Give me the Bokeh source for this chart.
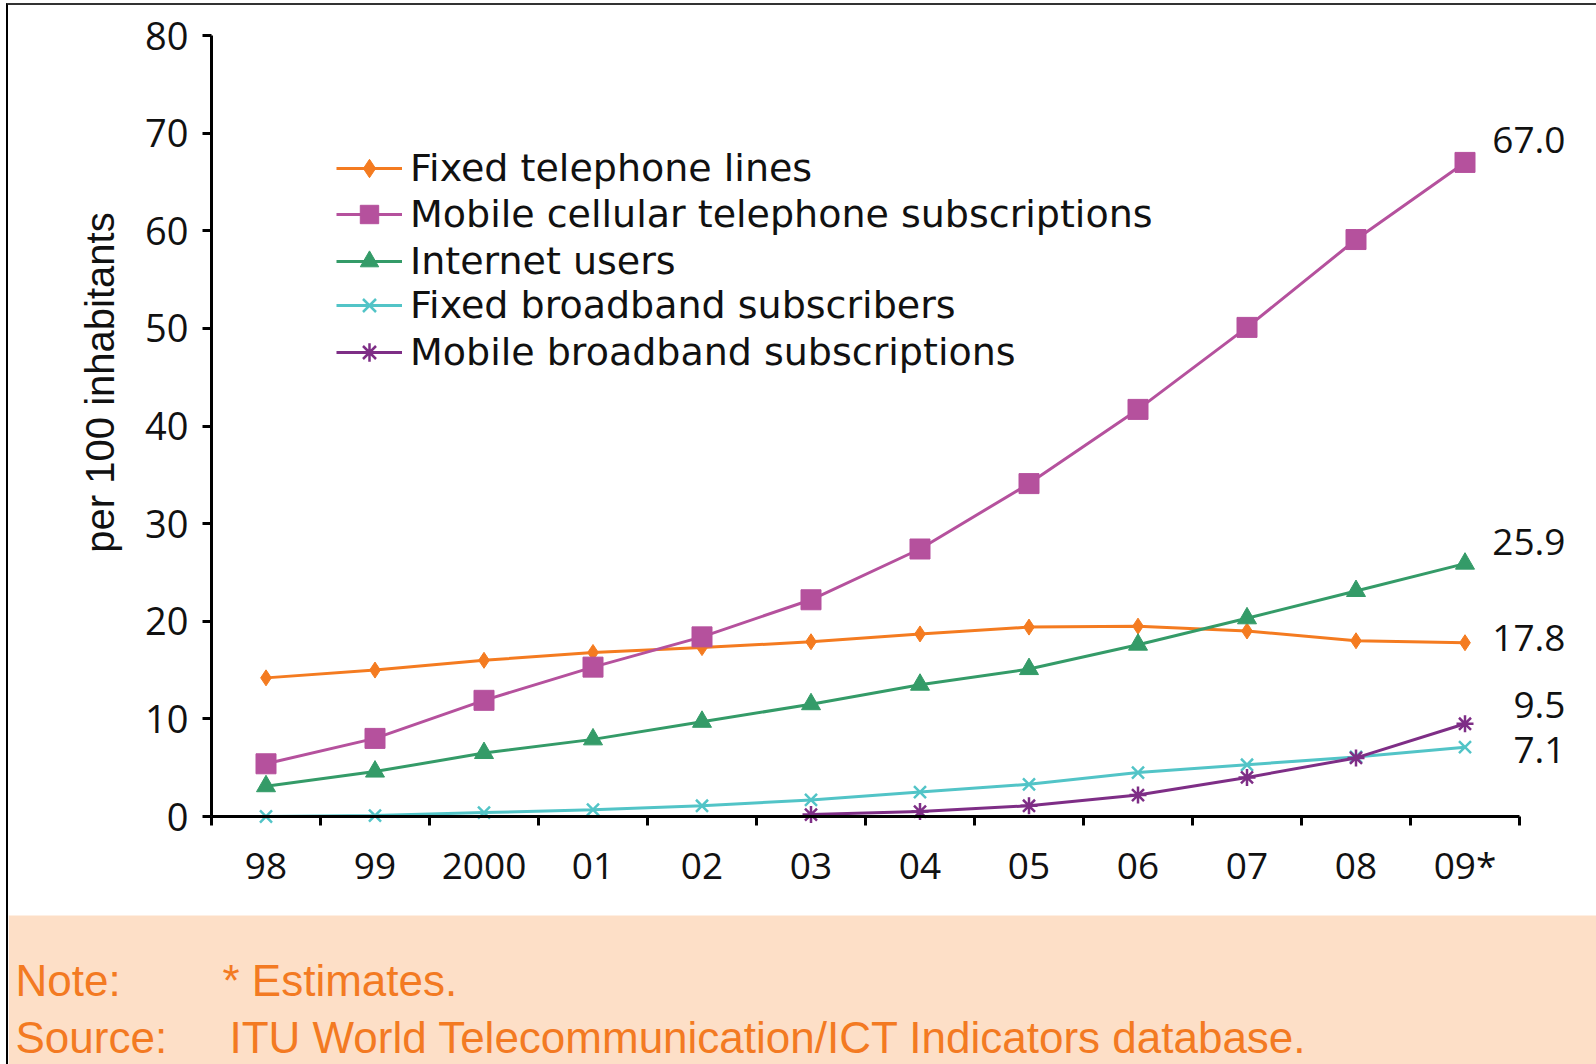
import math
from bokeh.plotting import figure
from bokeh.models import ColumnDataSource, Range1d, FixedTicker, Legend, LegendItem, BoxAnnotation
from bokeh.layouts import column
from bokeh.embed import file_html
from bokeh.resources import INLINE
from bokeh.core.properties import value

# ---- data (per 100 inhabitants) ----
years = ["98", "99", "2000", "01", "02", "03", "04", "05", "06", "07", "08", "09*"]
fixed_tel = [14.2, 15.0, 16.0, 16.8, 17.3, 17.9, 18.7, 19.4, 19.5, 19.0, 18.0, 17.8]
mobile_cell = [5.4, 8.0, 11.9, 15.3, 18.4, 22.2, 27.4, 34.1, 41.7, 50.1, 59.1, 67.0]
internet = [3.1, 4.6, 6.5, 7.9, 9.7, 11.5, 13.5, 15.1, 17.6, 20.3, 23.1, 25.9]
fixed_bb = [0.0, 0.1, 0.4, 0.7, 1.1, 1.7, 2.5, 3.3, 4.5, 5.3, 6.1, 7.1]
mobile_bb_years = ["03", "04", "05", "06", "07", "08", "09*"]
mobile_bb = [0.2, 0.5, 1.1, 2.2, 4.0, 6.0, 9.5]

labels = ["Fixed telephone lines", "Mobile cellular telephone subscriptions",
          "Internet users", "Fixed broadband subscribers", "Mobile broadband subscriptions"]
y_ticks = [0, 10, 20, 30, 40, 50, 60, 70, 80]
y_title = "per 100 inhabitants"
note_keys = ["Note:", "Source:"]
note_vals = ["* Estimates.", "ITU World Telecommunication/ICT Indicators database."]

FONT = "Open Sans"
LEGEND_FONT = "DejaVu Sans"
idx = {y: i for i, y in enumerate(years)}
xs = list(range(len(years)))
n = len(years)

# ---- page geometry (pixels on the page) ----
FIG_X, FIG_Y, FIG_W, FIG_H = 8, 5, 1588, 1059
AX_LEFT_PX, AX_BOTTOM_PX, AX_RIGHT_PX, AX_TOP_PX = 211, 816, 1519, 35
XS = (AX_RIGHT_PX - AX_LEFT_PX) / n          # px per category
YS = (AX_BOTTOM_PX - AX_TOP_PX) / 80.0       # px per unit


def px_x(px):
    return -0.5 + (px - AX_LEFT_PX) / XS


def px_y(py):
    return (AX_BOTTOM_PX - py) / YS


p = figure(width=FIG_W, height=FIG_H, output_backend="svg", toolbar_location=None,
           x_range=Range1d(px_x(FIG_X), px_x(FIG_X + FIG_W)),
           y_range=Range1d(px_y(FIG_Y + FIG_H), px_y(FIG_Y)),
           min_border=0, background_fill_color="white", border_fill_color="white")
p.outline_line_color = None
p.xgrid.visible = False
p.ygrid.visible = False

# peach note panel background
p.add_layout(BoxAnnotation(top=px_y(915), fill_color="#FDDFC7", fill_alpha=1.0,
                           line_color=None, level="underlay"))

# x axis
xa = p.xaxis[0]
xa.fixed_location = 0
xa.ticker = FixedTicker(ticks=xs, minor_ticks=[i - 0.5 for i in range(n + 1)])
xa.major_label_overrides = {i: y for i, y in enumerate(years)}
xa.bounds = (-0.5, n - 0.5)
xa.major_tick_out = 0
xa.major_tick_in = 0
xa.minor_tick_out = 9
xa.minor_tick_in = 0
xa.minor_tick_line_color = "black"
xa.minor_tick_line_width = 3
xa.axis_line_width = 3
xa.axis_line_color = "black"
xa.major_label_standoff = 13
xa.major_label_text_font = FONT
xa.major_label_text_font_size = "37px"
xa.major_label_text_color = "#111111"

# y axis
ya = p.yaxis[0]
ya.fixed_location = -0.5
ya.ticker = FixedTicker(ticks=y_ticks)
ya.bounds = (0, 80)
ya.major_tick_out = 9
ya.major_tick_in = 0
ya.major_tick_line_width = 3
ya.minor_tick_line_color = None
ya.axis_line_width = 3
ya.axis_line_color = "black"
ya.major_label_standoff = 14
ya.major_label_text_font = FONT
ya.major_label_text_font_size = "38px"
ya.major_label_text_color = "#111111"

# y axis title (drawn as rotated text to sit where the reference has it)
p.text(x=[px_x(99)], y=[px_y(382)], text=[y_title], angle=math.pi / 2,
       text_align="center", text_baseline="middle",
       text_font=value("Liberation Sans"), text_font_size="40px", text_color="#111111")

series = [
    (years, fixed_tel, "#F47B20", "diamond", 16, 1),
    (years, mobile_cell, "#B5519D", "square", 20, 1),
    (years, internet, "#349B68", "triangle", 19, 1),
    (years, fixed_bb, "#52C4C7", "x", 17, 2.5),
    (mobile_bb_years, mobile_bb, "#7E2E86", "asterisk", 17, 2.5),
]

# legend rows (page y of each row centre)
legend_rows_px = [168, 214, 261, 305, 352]
ROW_H = 46
for (yrs, vals, color, marker, size, mlw), lab, row_px in zip(series, labels, legend_rows_px):
    xx = [idx[y] for y in yrs]
    src = ColumnDataSource(dict(x=xx, y=vals))
    rl = p.line("x", "y", source=src, line_color=color, line_width=3)
    rm = p.scatter("x", "y", source=src, marker=marker, size=size,
                   fill_color=color, line_color=color, line_width=mlw)
    lg = Legend(items=[LegendItem(label=lab, renderers=[rl, rm])],
                location=(336 - FIG_X, round((FIG_Y + FIG_H) - (row_px + ROW_H / 2))),
                orientation="vertical",
                border_line_color=None, background_fill_alpha=0,
                padding=0, margin=0, spacing=0,
                glyph_width=66, glyph_height=ROW_H, label_height=ROW_H, label_standoff=8,
                label_text_font=LEGEND_FONT, label_text_font_size="38px",
                label_text_color="#111111")
    p.add_layout(lg)

# end-of-series value labels
last_vals = [mobile_cell[-1], internet[-1], fixed_tel[-1], mobile_bb[-1], fixed_bb[-1]]
label_dy = [-22, -22, -5, -19, 3]
lab_src = ColumnDataSource(dict(x=[n - 1] * 5, y=last_vals,
                                t=[f"{v:.1f}" for v in last_vals], dy=label_dy))
p.text("x", "y", text="t", source=lab_src, x_offset=1565 - (AX_LEFT_PX + (n - 0.5) * XS),
       y_offset="dy", text_align="right", text_baseline="middle",
       text_font=value(FONT), text_font_size="37px", text_color="#111111")

# ---- note panel texts ----
nsrc = ColumnDataSource(dict(x=[px_x(15), px_x(15)], y=[px_y(980), px_y(1037)], t=note_keys))
vsrc = ColumnDataSource(dict(x=[px_x(222), px_x(229)], y=[px_y(980), px_y(1037)], t=note_vals))
for s in (nsrc, vsrc):
    p.text("x", "y", text="t", source=s, text_align="left", text_baseline="middle",
           text_font=value("Liberation Sans"), text_font_size="44px",
           text_color="#F37A22")

layout = column(p, spacing=0, margin=(3, 0, 0, 6),
                styles={"border-left": "2px solid black", "border-top": "2px solid #333333"})

open("out.html", "w").write(file_html(layout, INLINE))
